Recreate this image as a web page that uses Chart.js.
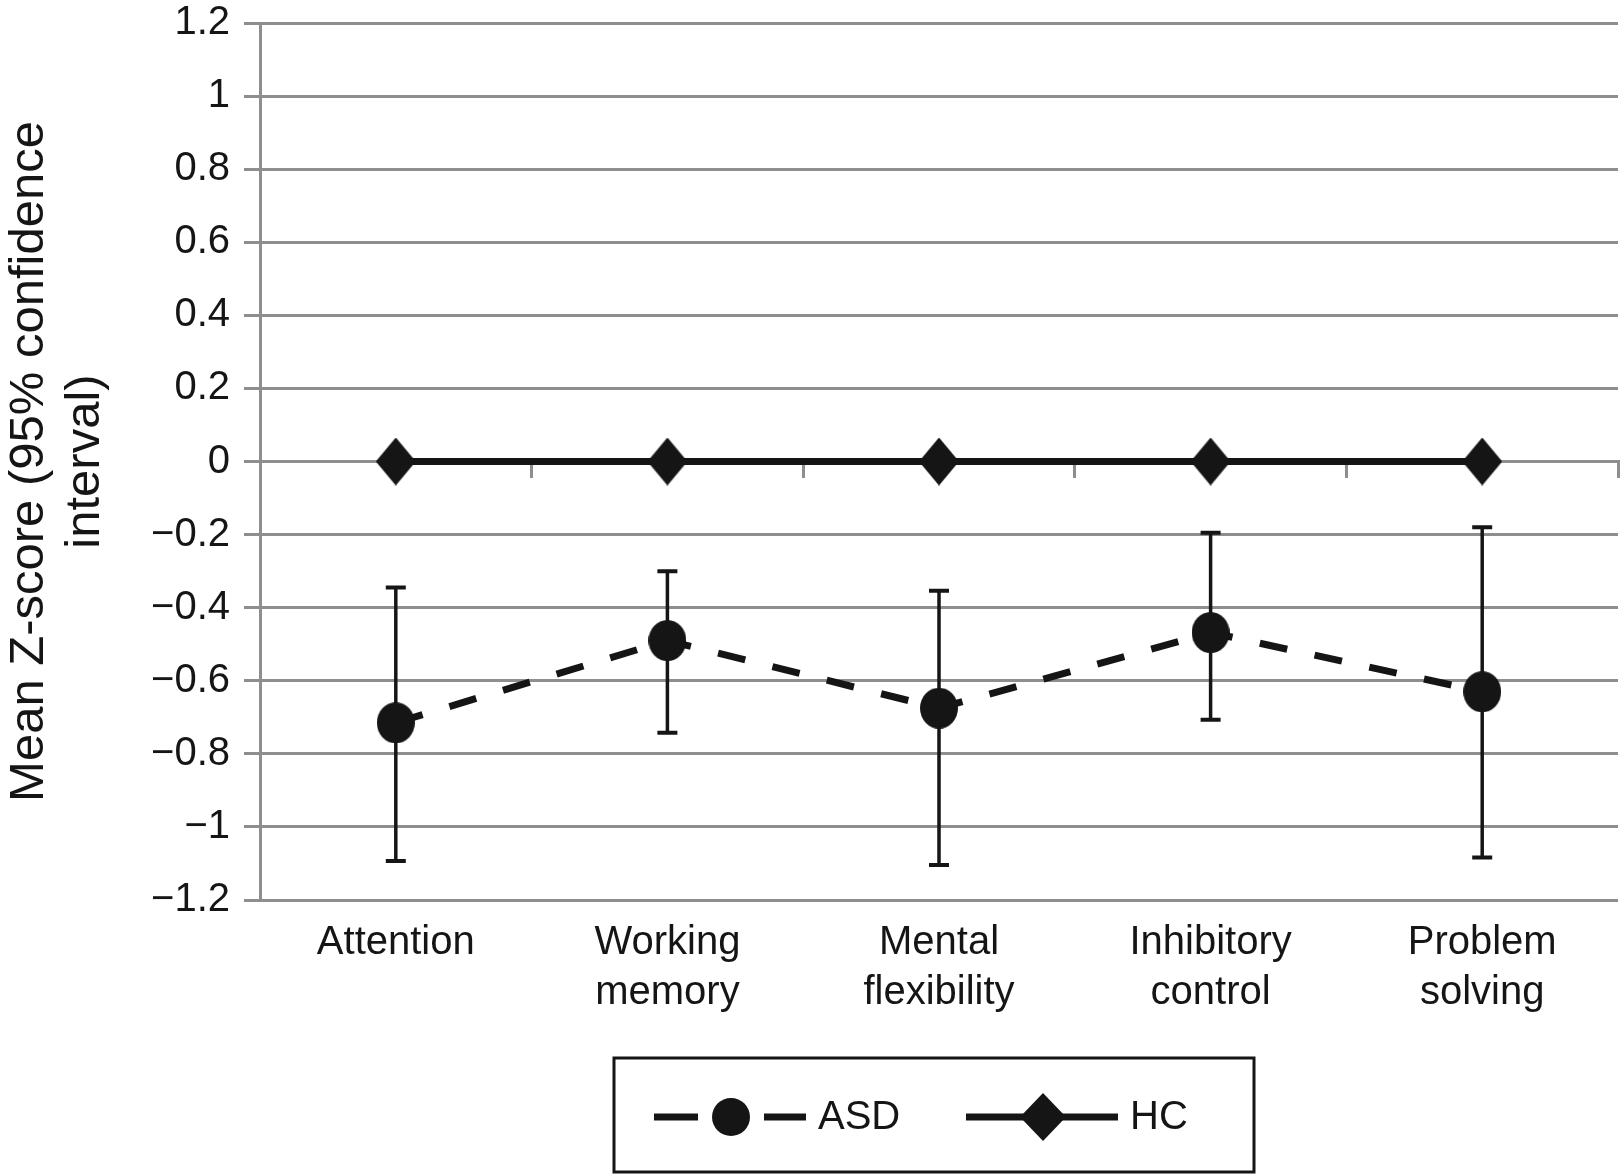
<!DOCTYPE html>
<html>
<head>
<meta charset="utf-8">
<script src="https://cdn.jsdelivr.net/npm/chart.js@4.4.1/dist/chart.umd.min.js"></script>
<style>
  html, body { margin: 0; padding: 0; background: #fff; }
  #wrap { width: 1620px; height: 1174px; position: relative; }
</style>
</head>
<body>
<div id="wrap"><canvas id="chart"></canvas></div>
<script>
// Domains on the x axis (each entry = lines of one label)
const domains = [['Attention'], ['Working', 'memory'], ['Mental', 'flexibility'], ['Inhibitory', 'control'], ['Problem', 'solving']];
const seriesNames = ['ASD', 'HC'];
const asdMean = [-0.715, -0.49, -0.675, -0.468, -0.63];
const asdUpper = [-0.345, -0.3, -0.354, -0.195, -0.18];
const asdLower = [-1.093, -0.742, -1.104, -0.707, -1.084];
const hcMean = [0, 0, 0, 0, 0];
const yTicks = [1.2, 1, 0.8, 0.6, 0.4, 0.2, 0, -0.2, -0.4, -0.6, -0.8, -1, -1.2];
const yTitle = ['Mean Z-score (95% confidence', 'interval)'];

const INK = '#151515';
const GRID = '#8e8e8e';
const FONT = '"Liberation Sans", Arial, Helvetica, sans-serif';

// marker images (slightly taller than wide, like the original)
const marker = (w, h, shape) => {
  const c = document.createElement('canvas');
  c.width = w; c.height = h;
  const g = c.getContext('2d');
  g.fillStyle = INK;
  g.beginPath();
  if (shape === 'diamond') {
    g.moveTo(w / 2, 0); g.lineTo(w, h / 2); g.lineTo(w / 2, h); g.lineTo(0, h / 2);
    g.closePath();
  } else {
    g.ellipse(w / 2, h / 2, w / 2, h / 2, 0, 0, Math.PI * 2);
  }
  g.fill();
  return c;
};

const fmt = v => {
  const r = Math.round(v * 10) / 10;
  return r < 0 ? '\u2212' + String(-r) : String(r);
};

// 95% CI whiskers for ASD
const errorBars = {
  id: 'errorBars',
  beforeDatasetsDraw(chart) {
    const { ctx, scales: { x, y } } = chart;
    ctx.save();
    ctx.strokeStyle = INK;
    asdMean.forEach((m, i) => {
      const px = x.getPixelForValue(i);
      const top = y.getPixelForValue(asdUpper[i]);
      const bot = y.getPixelForValue(asdLower[i]);
      ctx.lineWidth = 3.5;
      ctx.beginPath(); ctx.moveTo(px, top); ctx.lineTo(px, bot); ctx.stroke();
      ctx.lineWidth = 4;
      ctx.beginPath();
      ctx.moveTo(px - 10, top); ctx.lineTo(px + 10, top);
      ctx.moveTo(px - 10, bot); ctx.lineTo(px + 10, bot);
      ctx.stroke();
    });
    ctx.restore();
  }
};

// boxed legend under the chart
const boxLegend = {
  id: 'boxLegend',
  afterDraw(chart) {
    const { ctx, chartArea } = chart;
    const cx = (chartArea.left + chartArea.right) / 2;
    const left = cx - 325, top = 1058, w = 640, h = 114;
    const mid = top + 59;
    ctx.save();
    ctx.strokeStyle = INK;
    ctx.lineWidth = 3;
    ctx.strokeRect(left, top, w, h);

    ctx.lineWidth = 7;
    ctx.beginPath();
    ctx.moveTo(left + 40, mid); ctx.lineTo(left + 84, mid);
    ctx.moveTo(left + 150, mid); ctx.lineTo(left + 192, mid);
    ctx.moveTo(left + 352, mid); ctx.lineTo(left + 504, mid);
    ctx.stroke();

    ctx.drawImage(marker(38, 38, 'circle'), left + 117 - 19, mid - 19);
    ctx.drawImage(marker(46, 48, 'diamond'), left + 429 - 23, mid - 24);

    ctx.fillStyle = INK;
    ctx.font = '40px ' + FONT;
    ctx.textBaseline = 'middle';
    ctx.textAlign = 'left';
    ctx.fillText(seriesNames[0], left + 204, mid + 1);
    ctx.fillText(seriesNames[1], left + 516, mid + 1);
    ctx.restore();
  }
};

new Chart(document.getElementById('chart'), {
  type: 'line',
  data: {
    labels: domains,
    datasets: [
      {
        label: seriesNames[0],
        data: asdMean,
        borderColor: INK,
        borderWidth: 7,
        borderDash: [28, 28],
        borderCapStyle: 'butt',
        pointStyle: marker(38, 41, 'circle'),
        pointRadius: 1,
        pointHoverRadius: 1,
        pointBorderWidth: 0,
        tension: 0,
        clip: false
      },
      {
        label: seriesNames[1],
        data: hcMean,
        borderColor: INK,
        borderWidth: 7,
        pointStyle: marker(40, 48, 'diamond'),
        pointRadius: 1,
        pointHoverRadius: 1,
        pointBorderWidth: 0,
        tension: 0,
        clip: false
      }
    ]
  },
  options: {
    responsive: true,
    maintainAspectRatio: false,
    animation: false,
    layout: { padding: { top: 23, right: 2, bottom: 154, left: 0 } },
    plugins: {
      legend: { display: false },
      tooltip: { enabled: false }
    },
    scales: {
      x: {
        type: 'category',
        offset: true,
        grid: { display: false },
        border: { display: false },
        ticks: {
          color: INK,
          font: { family: FONT, size: 40, lineHeight: 1.25 },
          padding: 10,
          maxRotation: 0,
          autoSkip: false
        },
        afterFit: s => { s.height = 120; s.paddingLeft = 0; s.paddingRight = 0; }
      },
      x2: {
        type: 'category',
        position: { y: 0 },
        offset: true,
        grid: { display: true, drawOnChartArea: false, drawTicks: true, tickLength: 15, color: GRID, lineWidth: 3, offset: true },
        border: { display: true, color: GRID, width: 3 },
        ticks: { display: false }
      },
      y: {
        min: -1.2,
        max: 1.2,
        afterBuildTicks: s => { s.ticks = yTicks.map(v => ({ value: v })); },
        grid: { color: GRID, lineWidth: 3, drawTicks: true, tickLength: 16 },
        border: { display: true, color: GRID, width: 3 },
        ticks: {
          color: INK,
          font: { family: FONT, size: 40, lineHeight: 1.1 },
          padding: 14,
          callback: v => fmt(v)
        },
        title: {
          display: true,
          text: yTitle,
          color: INK,
          font: { family: FONT, size: 49, lineHeight: 1.13 },
          padding: { top: 2, bottom: 0 }
        },
        afterFit: s => { s.width = 260; s.paddingTop = 0; s.paddingBottom = 0; }
      }
    }
  },
  plugins: [errorBars, boxLegend]
});
</script>
</body>
</html>
